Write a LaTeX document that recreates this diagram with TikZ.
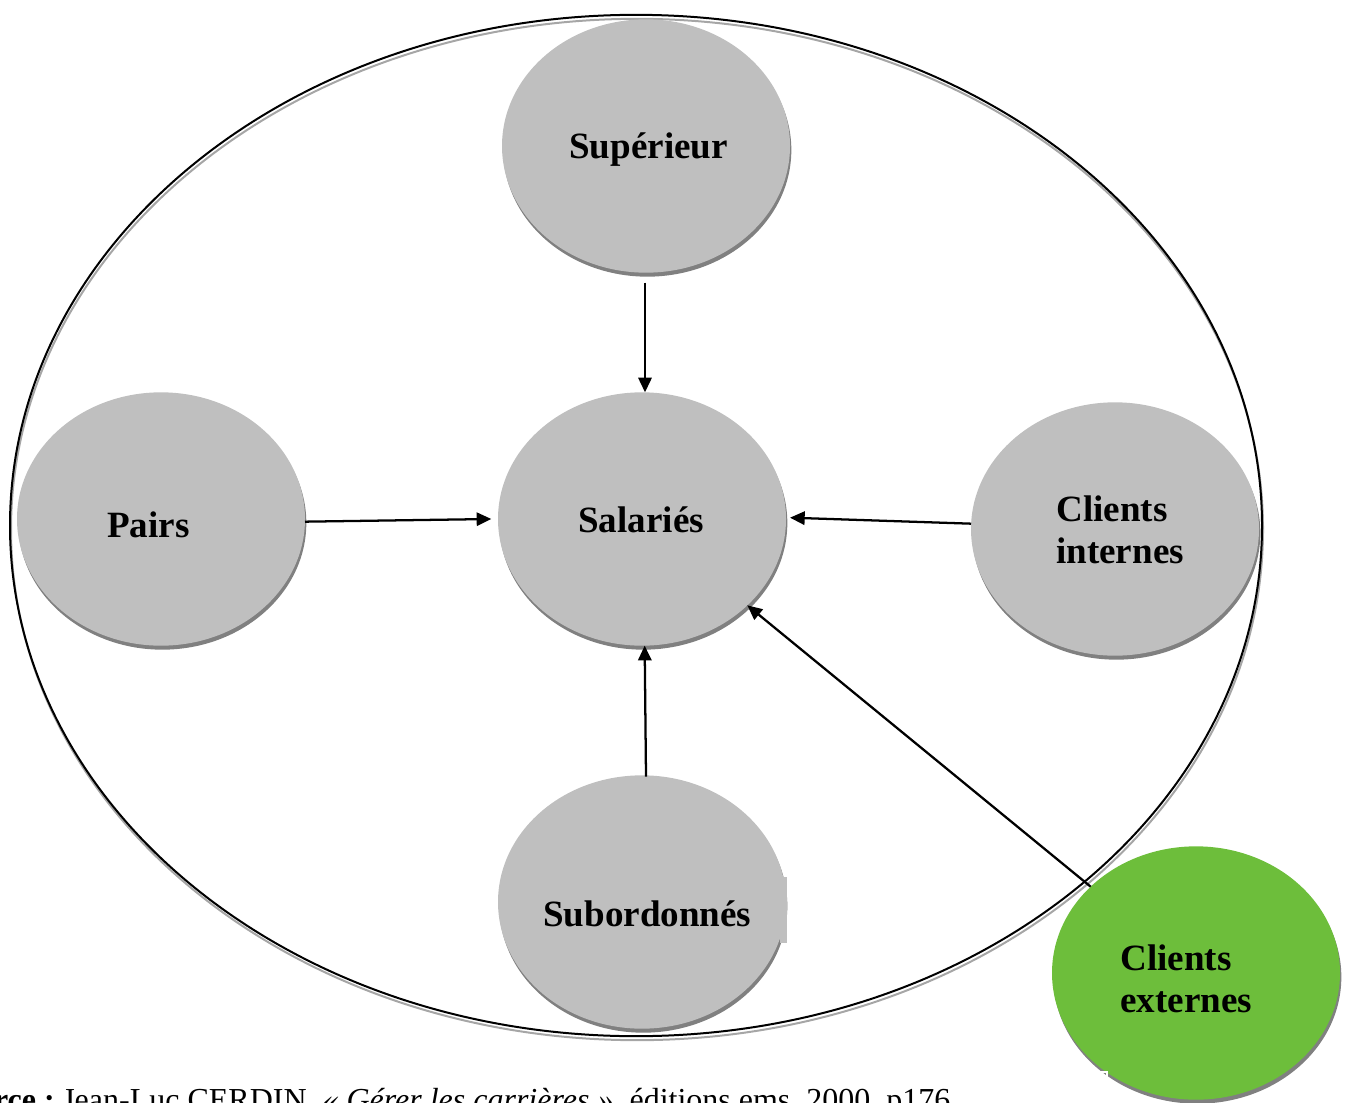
\documentclass[tikz,border=0pt]{standalone}
\usepackage{fontspec}
\setmainfont{Liberation Serif}
\usetikzlibrary{shapes.geometric,arrows.meta,shadows}
\definecolor{bubblegray}{RGB}{191,191,191}
\definecolor{shadowgray}{RGB}{128,128,128}
\definecolor{extgreen}{RGB}{109,190,59}
\begin{document}
\begin{tikzpicture}[x=0.75pt,y=-0.75pt,
  bubble/.style={ellipse, fill=bubblegray, minimum width=216pt, minimum height=190pt,
    inner sep=0pt, outer sep=0pt,
    drop shadow={shadow xshift=1pt, shadow yshift=-3pt, fill=shadowgray, opacity=1}},
  lbl/.style={font=\fontsize{27.8}{31.5}\selectfont\bfseries, inner sep=0pt, anchor=base west, align=left},
  arr/.style={line width=1.7pt, -{Triangle[length=11pt,width=10pt]}},
  src/.style={inner sep=0pt}
]
\useasboundingbox (0,0) rectangle (1348,1102);
% frame ellipse with its shadow line
\draw[shadowgray!70, line width=1.5pt] (637,529.5) ellipse [x radius=469.5pt, y radius=383pt];
\node[ellipse, draw=black, line width=1.5pt, minimum width=939pt, minimum height=766pt,
  inner sep=0pt] (frame) at (636,525.5) {};
% bubbles
\node[bubble] (sup) at (646,146) {};
\node[bubble] (sal) at (642,519) {};
\node[bubble] (pairs) at (161,519) {};
\node[bubble] (ci) at (1115,529) {};
\node[bubble] (sub) at (642,902) {};
\fill[bubblegray] (780,877) rectangle (787,943);
\node[bubble, fill=extgreen] (ce) at (1196,973) {};
\draw[white, line width=0.8pt] (1096,1072) -- (1107,1072) -- (1107,1082);
% labels
\node[lbl] (tsup) at (569,159) {Supérieur};
\node[lbl] (tsal) at (578,532) {Salariés};
\node[lbl] (tpairs) at (107,537) {Pairs};
\node[lbl] (tci) at (1056,563) {Clients\\internes};
\node[lbl] (tsub) at (543,926) {Subordonnés};
\node[lbl] (tce) at (1120,1012) {Clients\\externes};
% arrows
\coordinate (supout) at ([xshift=-0.75pt,yshift=-7.5pt]sup.south);
\draw[arr] (supout) -- (supout |- sal.north);
\draw[arr] ([yshift=-2pt]pairs.east) -- ([xshift=-5pt]sal.west);
\draw[arr] ([yshift=4pt]ci.west) -- ([xshift=3pt,yshift=1pt]sal.east);
\draw[arr] ([xshift=3pt,yshift=-1pt]sub.north) -- ([xshift=2pt]sal.south);
\draw[arr] (ce) -- (sal);
% source line (cut at the bottom edge, as in the reference)
\node[src, anchor=base east, font=\fontsize{24}{28}\selectfont\bfseries] (srcA) at (55,1110) {Source :};
\node[src, anchor=base west, font=\fontsize{24}{28}\selectfont] (srcB) at (62,1110)
  {Jean-Luc CERDIN, \textit{«~Gérer les carrières~»}, éditions ems, 2000, p176};
\end{tikzpicture}
\end{document}
